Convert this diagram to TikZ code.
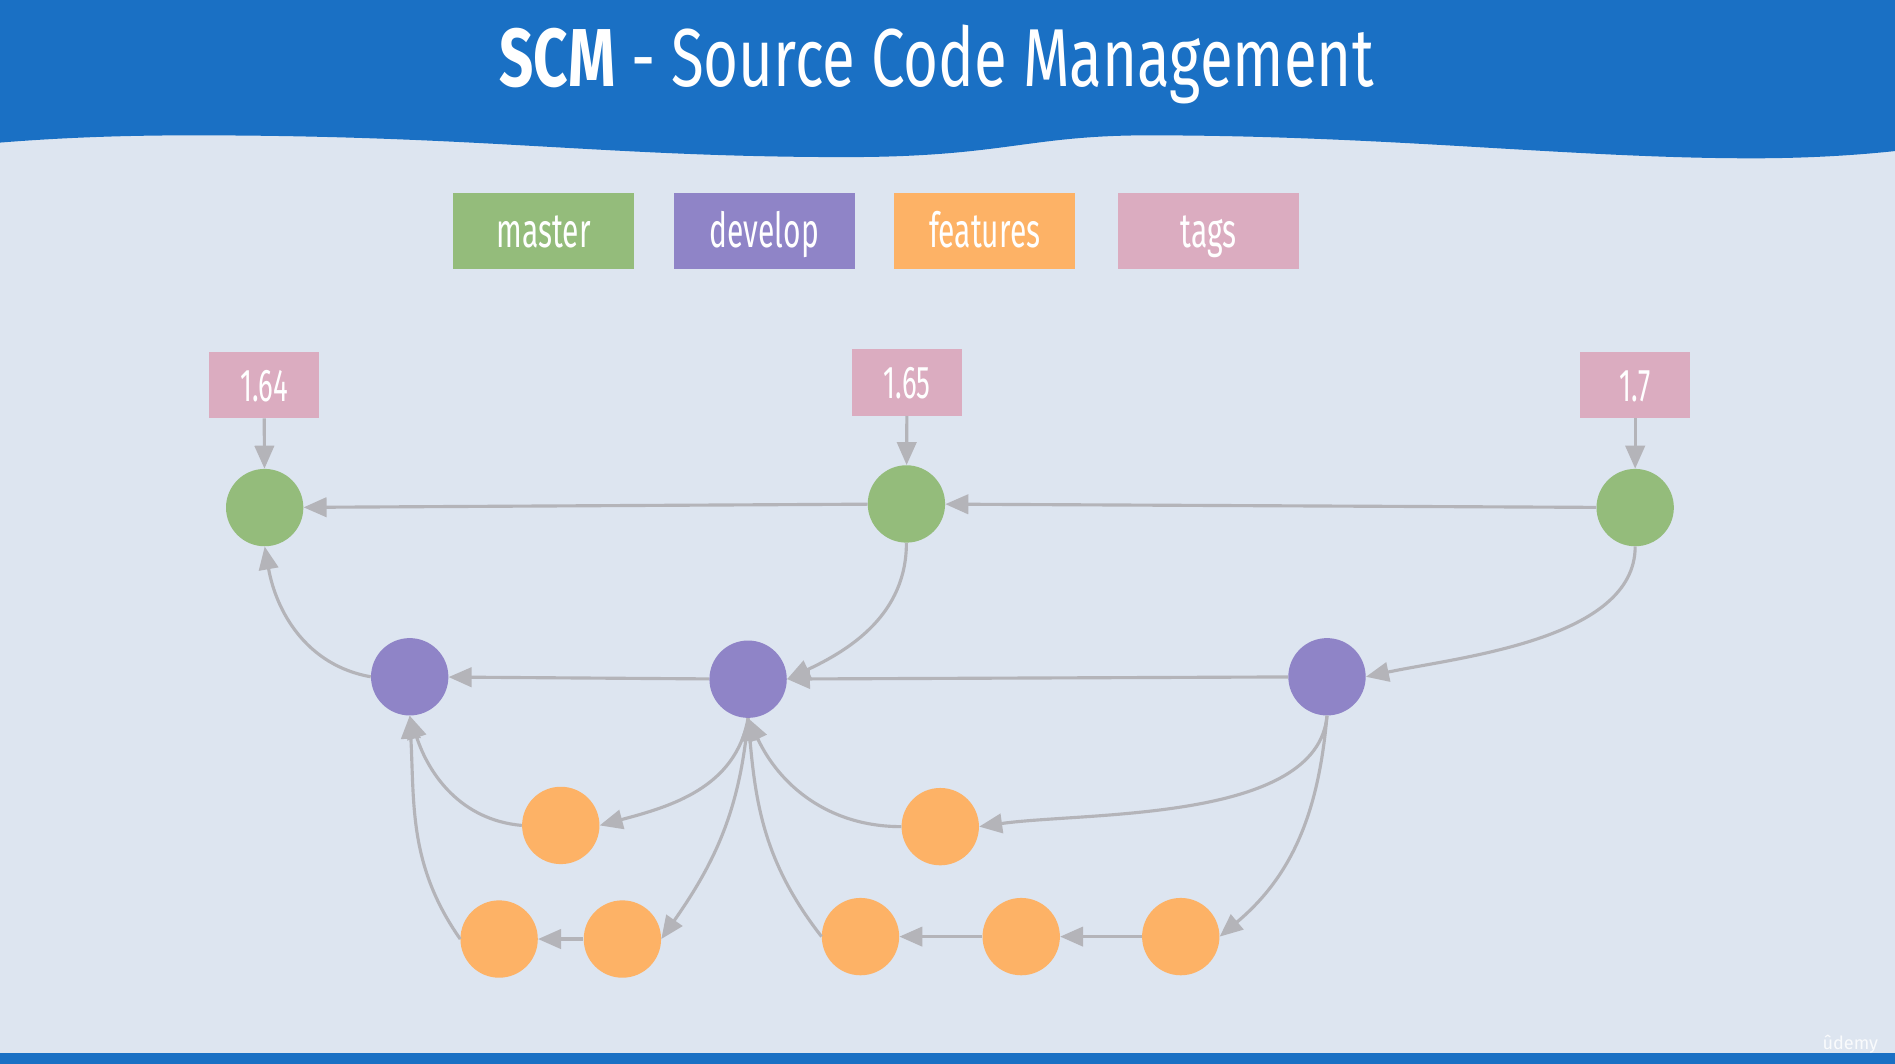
\documentclass[tikz,border=0pt]{standalone}
\usepackage{fontspec}
\setmainfont{Fira Sans}
\usepackage{graphicx}
\usepackage{tikz}
\usetikzlibrary{positioning,arrows.meta}

\definecolor{hdblue}{RGB}{26,112,196}
\definecolor{bgblue}{RGB}{221,229,240}
\definecolor{mastercol}{RGB}{148,188,123}
\definecolor{devcol}{RGB}{143,132,199}
\definecolor{featcol}{RGB}{253,178,102}
\definecolor{tagcol}{RGB}{219,172,192}
\definecolor{linkgray}{RGB}{180,180,185}

\newcommand{\cond}[2][0.62]{\scalebox{#1}[1]{#2}}

\begin{document}
\begin{tikzpicture}[x=1pt, y=1pt,
    commit/.style={circle, minimum size=64pt, inner sep=0pt},
    legend/.style={minimum width=150pt, minimum height=63pt, inner sep=0pt, text=white,
      font=\fontsize{40}{44}\selectfont, text height=30pt, text depth=3pt},
    tagbox/.style={fill=tagcol, minimum width=91pt, minimum height=55pt, inner sep=0pt, text=white,
      font=\fontsize{38}{40}\selectfont, text height=28pt, text depth=1pt},
    link/.style={draw=linkgray, line width=2.6pt, -{Triangle[length=19pt,width=16pt]}}]

  % background and header
  \useasboundingbox (0,0) rectangle (1568,880);
  \fill[bgblue] (0,0) rectangle (1568,880);
  \fill[hdblue] (0,0) rectangle (1568,9);
  \fill[hdblue] (0,880) -- (0,762) .. controls (50,766) and (100,768) .. (160,768)
    .. controls (400,768) and (500,750) .. (700,750)
    .. controls (830,750) and (850,768) .. (950,768)
    .. controls (1150,768) and (1300,749) .. (1450,749)
    .. controls (1500,749) and (1540,752) .. (1568,755) -- (1568,880) -- cycle;
  \node[text=white, anchor=base, font=\fontsize{68}{72}\selectfont] (title) at (775,808)
    {\cond[0.73]{\textbf{SCM} - Source Code Management}};

  % legend
  \node[legend, fill=mastercol] (lmaster) at (450,688.5) {\cond{master}};
  \node[legend, fill=devcol] (ldev) [right=32pt of lmaster] {\cond{develop}};
  \node[legend, fill=featcol] (lfeat) [right=32pt of ldev] {\cond{features}};
  \node[legend, fill=tagcol] (ltags) [right=35pt of lfeat] {\cond{tags}};

  % tags
  \node[tagbox] (t0) at (218.5,561.5) {\cond[0.6]{1.64}};
  \node[tagbox] (t1) at (750.5,563.5) {\cond[0.6]{1.65}};
  \node[tagbox] (t2) at (1353,561.5) {\cond[0.6]{1.7}};

  % master
  \node[commit, fill=mastercol] (m0) at (219,460) {};
  \node[commit, fill=mastercol] (m1) at (750,463) {};
  \node[commit, fill=mastercol] (m2) at (1353,460) {};

  % develop
  \node[commit, fill=devcol] (d0) at (339,320) {};
  \node[commit, fill=devcol] (d1) at (619,318) {};
  \node[commit, fill=devcol] (d2) at (1098,320) {};

  % features
  \node[commit, fill=featcol] (f0) at (464,197) {};
  \node[commit, fill=featcol] (f1) at (778,196) {};
  \node[commit, fill=featcol] (f2) at (413,103) {};
  \node[commit, fill=featcol] (f3) at (515,103) {};
  \node[commit, fill=featcol] (f4) at (712,105) {};
  \node[commit, fill=featcol] (f5) at (845,105) {};
  \node[commit, fill=featcol] (f6) at (977,105) {};

  \path[every edge/.style={link}]
    (t0) edge (m0)
    (t1) edge (m1)
    (t2) edge (m2)

    (m1) edge (m0)
    (m2) edge (m1)
    (m1.south) edge[out=-90, in=25] (d1.east)
    (m2.south) edge[out=-90, in=12, looseness=0.8] (d2.east)
    (d0.west) edge[out=170, in=-80] (m0.south)

    (d1) edge (d0)
    (d2) edge (d1)

    (d1.south) edge[out=-100, in=15] (f0.east)
    (f0.west) edge[out=175, in=-72] (d0.south)
    (d1.south) edge[out=-95, in=55] (f3.east)
    (f3) edge (f2)
    (f2.west) edge[out=125, in=-87] (d0.south)

    (d2.south) edge[out=-95, in=8, looseness=0.75] (f1.east)
    (f1.west) edge[out=180, in=-65] (d1.south)
    (d2.south) edge[out=-95, in=40] (f6.east)
    (f6) edge (f5)
    (f5) edge (f4)
    (f4.west) edge[out=128, in=-85] (d1.south);

  \node[text=white, opacity=0.85, font=\fontsize{15}{16}\selectfont] (udemy) at (1531,16) {ûdemy};
\end{tikzpicture}
\end{document}
